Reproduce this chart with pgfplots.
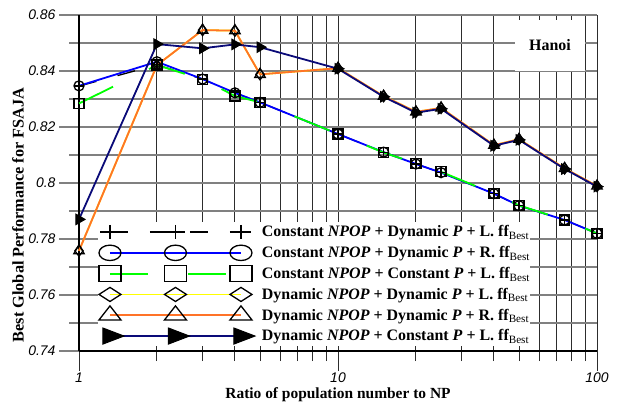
\documentclass[border=0pt]{standalone}
\usepackage{fontspec}
\setmainfont{Liberation Serif}
\setsansfont{Liberation Sans}
\usepackage{graphicx}
\usepackage{pgfplots}
\pgfplotsset{compat=1.18}
\definecolor{myblue}{RGB}{0,0,255}
\definecolor{mygreen}{RGB}{0,255,0}
\definecolor{myyellow}{RGB}{255,255,0}
\definecolor{myorange}{RGB}{255,115,40}
\definecolor{mynavy}{RGB}{10,10,120}
\definecolor{hgrid}{RGB}{128,128,128}
\definecolor{vgrid}{RGB}{45,45,45}
\pgfplotsset{
  leg/.style 2 args={legend image code/.code={
    \path[draw=none, fill=none] (-11.5bp,-10.4bp) rectangle (152bp,10.4bp);
    \draw[##1, mark repeat=1, mark phase=1, mark size=11bp,
      /tikz/every mark/.append style={xscale=#1,yscale=#2}]
      plot coordinates {(0bp,0bp) (65.5bp,0bp) (131bp,0bp)};
  }},
}
\pgfplotstableread{
x     plus    circ    sq      dia     tri     navy
1     0.8346  0.8347  0.8284  0.7758  0.7758  0.7870
2     0.8422  0.8433  0.8421  0.8421  0.8421  0.8496
3     0.8371  0.8371  0.8370  0.8546  0.8546  0.8481
4     0.8322  0.8322  0.8311  0.8544  0.8544  0.8495
5     0.8288  0.8288  0.8288  0.8388  0.8388  0.8485
10    0.8175  0.8175  0.8175  0.8410  0.8410  0.8408
15    0.8110  0.8110  0.8109  0.8310  0.8310  0.8308
20    0.8068  0.8068  0.8070  0.8254  0.8254  0.8251
25    0.8037  0.8037  0.8040  0.8268  0.8268  0.8265
40    0.7962  0.7962  0.7962  0.8135  0.8135  0.8133
50    0.7919  0.7919  0.7920  0.8156  0.8156  0.8154
75    0.7868  0.7868  0.7868  0.8052  0.8052  0.8050
100   0.7820  0.7820  0.7820  0.7989  0.7989  0.7987
}\data
\begin{document}
\begin{tikzpicture}
\useasboundingbox (0,0) rectangle (622bp,408bp);
\begin{axis}[
  at={(79bp,57bp)}, anchor=south west,
  scale only axis, width=518bp, height=336bp,
  xmode=log, xmin=1, xmax=100, ymin=0.74, ymax=0.86,
  clip=false,
  axis x line*=bottom, axis y line*=left,
  axis line style={black, line width=1.3bp},
  xtick={1,10,100}, xticklabels={1,10,100},
  minor xtick={2,3,4,5,6,7,8,9,20,30,40,50,60,70,80,90},
  ytick={0.74,0.76,0.78,0.8,0.82,0.84,0.86},
  yticklabels={0.74,0.76,0.78,0.8,0.82,0.84,0.86},
  minor ytick={0.75,0.77,0.79,0.81,0.83,0.85},
  grid=both,
  x grid style={vgrid, line width=1bp},
  y grid style={hgrid, line width=1.3bp},
  tick align=outside, major tick length=20bp, minor tick length=10bp,
  xtick style={vgrid, line width=1bp},
  ytick style={hgrid, line width=1.3bp},
  /pgf/number format/assume math mode=true,
  xticklabel style={font=\fontsize{14}{14}\sffamily\itshape, yshift=2bp},
  yticklabel style={font=\fontsize{14}{14}\sffamily\itshape},
  xlabel={Ratio of population number to NP},
  ylabel={Best Global Performance for FSAJA},
  label style={font=\bfseries\fontsize{15.5}{15.5}\selectfont},
  xlabel style={at={(axis description cs:0.5,-0.13)}, anchor=center},
  ylabel style={at={(axis description cs:-0.118,0.405)}, anchor=center,
    font=\bfseries\fontsize{16.3}{16.3}\selectfont},
  legend cell align=left,
  legend style={at={(0.0376,0.385)}, anchor=north west, draw=none, fill=white,
    inner sep=0pt, outer sep=0pt, row sep=0pt, column sep=0pt,
    nodes={inner sep=0pt, font=\bfseries\fontsize{16}{16}\selectfont}},
]
\addplot[black, line width=1.3bp, dash pattern=on 18bp off 22bp, mark=+, mark size=5bp,
  mark options={solid, black, line width=1.3bp}, leg={0.9}{0.65}]
  table[x=x, y=plus] {\data};
\addlegendentry{Constant \textit{NPOP} + Dynamic \textit{P} + L. ff\textsubscript{\mdseries Best}}
\addplot[myblue, line width=1.8bp, mark=o, mark size=5bp,
  mark options={solid, black, line width=1.3bp}, leg={1}{0.7}]
  table[x=x, y=circ] {\data};
\addlegendentry{Constant \textit{NPOP} + Dynamic \textit{P} + R. ff\textsubscript{\mdseries Best}}
\addplot[mygreen, line width=1.8bp, dash pattern=on 38bp off 40bp, mark=square, mark size=5bp,
  mark options={solid, black, line width=1.3bp}, leg={1}{0.73}]
  table[x=x, y=sq] {\data};
\addlegendentry{Constant \textit{NPOP} + Constant \textit{P} + L. ff\textsubscript{\mdseries Best}}
\addplot[myyellow, line width=1.8bp, mark=diamond, mark size=5.5bp,
  mark options={solid, black, line width=1.3bp}, leg={1.33}{0.64}]
  table[x=x, y=dia] {\data};
\addlegendentry{Dynamic \textit{NPOP} + Dynamic \textit{P} + L. ff\textsubscript{\mdseries Best}}
\addplot[myorange, line width=1.8bp, mark=triangle, mark size=6bp,
  mark options={solid, black, line width=1.3bp}, leg={1.15}{0.85}]
  table[x=x, y=tri] {\data};
\addlegendentry{Dynamic \textit{NPOP} + Dynamic \textit{P} + R. ff\textsubscript{\mdseries Best}}
\addplot[mynavy, line width=1.8bp, mark=triangle*, mark size=6bp,
  mark options={solid, black, fill=black, line width=1bp, rotate=-90}, leg={0.84}{1.27}]
  table[x=x, y=navy] {\data};
\addlegendentry{Dynamic \textit{NPOP} + Constant \textit{P} + L. ff\textsubscript{\mdseries Best}}
\node[fill=white, minimum width=70bp, minimum height=51bp, inner sep=0pt,
  font=\bfseries\fontsize{16}{16}\selectfont] at (rel axis cs:0.9093,0.9092) {Hanoi};
\end{axis}
\end{tikzpicture}
\end{document}
